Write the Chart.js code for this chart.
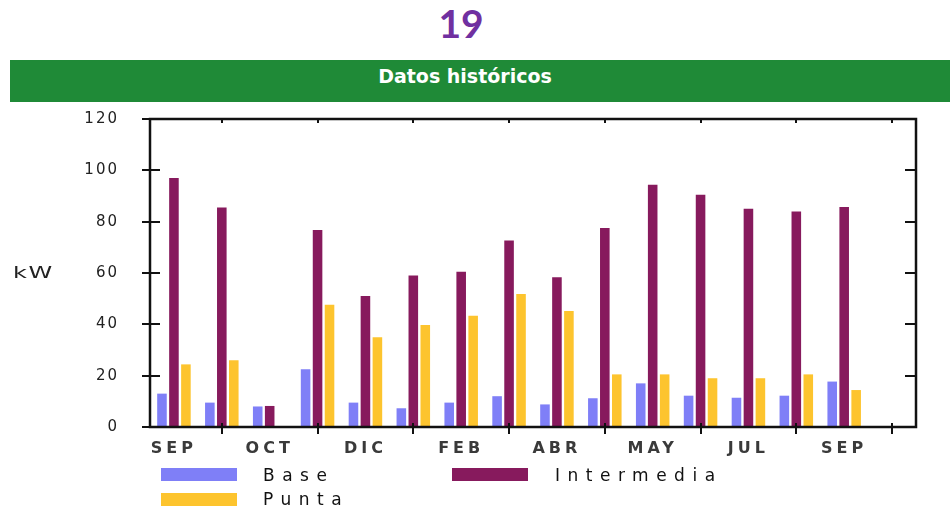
<!DOCTYPE html>
<html>
<head>
<meta charset="utf-8">
<title>Datos históricos</title>
<script src="https://cdn.jsdelivr.net/npm/chart.js@4/dist/chart.umd.min.js"></script>
<style>
  html, body { margin: 0; padding: 0; background: #fff; }
  #page { position: relative; width: 950px; height: 510px; overflow: hidden; }
  #num { position: absolute; left: 0; width: 922px; top: 4px; text-align: center;
         font: bold 39px Lato, "Open Sans", sans-serif; line-height: 1; color: #7030a0; }
  #band { position: absolute; left: 10px; top: 60px; width: 940px; height: 42px; background: #1f8a37; }
  #bandText { position: absolute; left: 0; width: 930px; top: 67px; text-align: center;
              font: bold 19px "DejaVu Sans", sans-serif; line-height: 1; color: #fff; }
  canvas { position: absolute; left: 0; top: 0; }
  .lbl { position: absolute; font: 17px "DejaVu Sans", sans-serif; line-height: 1;
         letter-spacing: 7.5px; color: #111; white-space: nowrap; }
  .sw { position: absolute; width: 76px; height: 13px; }
  #unit { position: absolute; left: 13px; top: 266px; font: 15px "DejaVu Sans", sans-serif;
          line-height: 1; color: #222; letter-spacing: 1px; transform: scaleX(1.6); transform-origin: left center; }
</style>
</head>
<body>
<div id="page">
  <div id="num">19</div>
  <div id="band"></div>
  <div id="bandText">Datos históricos</div>
  <canvas id="c" width="950" height="510"></canvas>
  <div id="unit">kW</div>
  <div id="legend"></div>
</div>
<script>
// Month labels along the x axis (one slot per month, every other one labelled)
const categories = ['SEP', '', 'OCT', '', 'DIC', '', 'FEB', '', 'ABR', '', 'MAY', '', 'JUL', '', 'SEP', ''];

// Demand per tariff period, kW
const base       = [13, 9.5, 8, 22.5, 9.5, 7.3, 9.5, 12, 8.8, 11.2, 17, 12.2, 11.4, 12.2, 17.7];
const intermedia = [97, 85.5, 8.2, 76.8, 51, 59, 60.5, 72.7, 58.3, 77.5, 94.4, 90.5, 85, 84, 85.7];
const punta      = [24.4, 26, 0, 47.6, 35, 39.7, 43.3, 51.8, 45.2, 20.5, 20.5, 19, 19, 20.5, 14.4];

const seriesNames  = ['Base', 'Intermedia', 'Punta'];
const seriesColors = ['#7f7ff7', '#871a5d', '#fdc42e'];

const yMin = 0, yMax = 120, yStep = 20;

// Letter-spaced tick labels: wrap each scale's label drawing once
const spacedLabels = {
  id: 'spacedLabels',
  beforeDraw(chart) {
    const spacing = { x: '4px', y: '2px' };
    Object.keys(spacing).forEach(id => {
      const s = chart.scales[id];
      if (!s || s._spacedWrap) return;
      const orig = s.drawLabels;
      s.drawLabels = function (area) {
        const c = this.ctx;
        c.save();
        c.letterSpacing = spacing[id];
        orig.call(this, area);
        c.restore();
      };
      s._spacedWrap = true;
    });
  }
};

// Boxed frame with crossing tick marks
const frame = {
  id: 'frame',
  afterDatasetsDraw(chart) {
    const { ctx, chartArea: a, scales: { x, y } } = chart;
    ctx.save();
    ctx.strokeStyle = '#111';
    ctx.lineWidth = 2;
    ctx.beginPath();
    // y ticks: outside + inside on the left, inside on the right
    for (let v = yMin; v <= yMax; v += yStep) {
      const py = Math.round(y.getPixelForValue(v));
      ctx.moveTo(a.left - 8, py);
      ctx.lineTo(a.left + 10, py);
      if (v > yMin && v < yMax) {
        ctx.moveTo(a.right - 11, py);
        ctx.lineTo(a.right, py);
      }
    }
    // x ticks between labelled months
    for (let i = 1; i < categories.length; i += 2) {
      const px = Math.round(x.getPixelForValue(i));
      ctx.moveTo(px, a.bottom - 4);
      ctx.lineTo(px, a.bottom + 7);
      ctx.moveTo(px, a.top);
      ctx.lineTo(px, a.top + 4);
    }
    ctx.stroke();
    ctx.lineWidth = 2.5;
    ctx.strokeRect(a.left, a.top, a.right - a.left, a.bottom - a.top);
    ctx.restore();
  }
};

const chart = new Chart(document.getElementById('c'), {
  type: 'bar',
  data: {
    labels: categories,
    datasets: [
      { label: seriesNames[0], data: base,       backgroundColor: seriesColors[0] },
      { label: seriesNames[1], data: intermedia, backgroundColor: seriesColors[1] },
      { label: seriesNames[2], data: punta,      backgroundColor: seriesColors[2] }
    ]
  },
  options: {
    responsive: false,
    animation: false,
    devicePixelRatio: 1,
    categoryPercentage: 0.75,
    barPercentage: 0.8,
    layout: { padding: { top: 119, right: 34, left: 0, bottom: 0 } },
    plugins: { legend: { display: false }, tooltip: { enabled: false } },
    scales: {
      x: {
        grid: { display: false, drawTicks: false },
        border: { display: false },
        ticks: {
          autoSkip: false, maxRotation: 0, padding: 12,
          color: '#3a3a3a',
          font: { family: 'DejaVu Sans', size: 16, weight: 'bold' }
        },
        afterFit(s) { s.height = 83; }
      },
      y: {
        min: yMin, max: yMax,
        grid: { display: false, drawTicks: false },
        border: { display: false },
        ticks: {
          stepSize: yStep, padding: 31,
          color: '#222',
          font: { family: 'DejaVu Sans', size: 15 }
        },
        afterFit(s) { s.width = 150; }
      }
    }
  },
  plugins: [spacedLabels, frame]
});
chart.draw();

// Two-column legend built from the datasets
const legendPos = [
  { sx: 161, sy: 468, tx: 263, ty: 467 },
  { sx: 452, sy: 468, tx: 555, ty: 467 },
  { sx: 161, sy: 493, tx: 263, ty: 491 }
];
const legend = document.getElementById('legend');
chart.data.datasets.forEach((ds, i) => {
  const p = legendPos[i];
  const sw = document.createElement('div');
  sw.className = 'sw';
  sw.style.left = p.sx + 'px';
  sw.style.top = p.sy + 'px';
  sw.style.background = ds.backgroundColor;
  const t = document.createElement('div');
  t.className = 'lbl';
  t.style.left = p.tx + 'px';
  t.style.top = p.ty + 'px';
  t.textContent = ds.label;
  legend.appendChild(sw);
  legend.appendChild(t);
});
</script>
</body>
</html>
